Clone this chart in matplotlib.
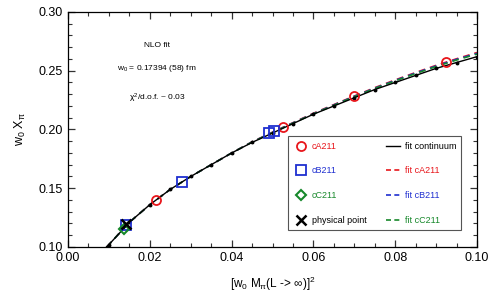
import numpy as np
import matplotlib
matplotlib.use("Agg")
import matplotlib.pyplot as plt
from matplotlib.ticker import MultipleLocator
from matplotlib.lines import Line2D

plt.rcParams['font.family'] = ['Liberation Sans', 'DejaVu Sans']
plt.rcParams['mathtext.fontset'] = 'custom'
plt.rcParams['mathtext.rm'] = 'Liberation Sans'
plt.rcParams['mathtext.it'] = 'Liberation Sans'

# data
cA_x = [0.0215, 0.0525, 0.0700, 0.0924]
cA_y = [0.140, 0.2025, 0.2283, 0.2573]
cB_x = [0.0143, 0.0279, 0.0491, 0.0504]
cB_y = [0.1188, 0.1553, 0.1970, 0.1983]
cC_x = [0.0137]
cC_y = [0.1155]
phys_x = [0.0142]
phys_y = [0.1195]

fit_x = [0.0095, 0.010, 0.015, 0.020, 0.025, 0.030, 0.035, 0.040, 0.045, 0.050,
         0.055, 0.060, 0.065, 0.070, 0.075, 0.080, 0.085, 0.090, 0.095, 0.100]
fit_cont = [0.100, 0.102, 0.121, 0.136, 0.149, 0.160, 0.170, 0.180, 0.189, 0.197,
            0.205, 0.213, 0.220, 0.227, 0.234, 0.240, 0.246, 0.252, 0.257, 0.262]
fit_cA = [0.100, 0.102, 0.121, 0.136, 0.149, 0.160, 0.170, 0.180, 0.1895, 0.1977,
          0.2058, 0.2138, 0.2212, 0.2285, 0.2356, 0.2422, 0.2485, 0.2546, 0.2602, 0.2655]
fit_cB = [0.100, 0.102, 0.121, 0.136, 0.149, 0.160, 0.170, 0.180, 0.1894, 0.1975,
          0.2056, 0.2135, 0.2209, 0.2282, 0.2352, 0.2418, 0.2481, 0.2541, 0.2597, 0.2648]
fit_cC = [0.100, 0.102, 0.121, 0.136, 0.149, 0.160, 0.170, 0.180, 0.1893, 0.1973,
          0.2054, 0.2133, 0.2206, 0.2279, 0.2349, 0.2414, 0.2476, 0.2536, 0.2591, 0.2642]

red = '#e8161b'
blue = '#1f2fd0'
green = '#16882a'

fig = plt.figure(figsize=(4.9, 3.0), dpi=100)
ax = fig.add_axes([0.1388, 0.1767, 0.8347, 0.7833])

ax.plot(fit_x, fit_cA, color=red, lw=1.2, dashes=(4, 3))
ax.plot(fit_x, fit_cB, color=blue, lw=1.2, dashes=(4, 3))
ax.plot(fit_x, fit_cC, color=green, lw=1.2, dashes=(4, 3))
ax.plot(fit_x, fit_cont, color='black', lw=1.0, marker='o', ms=1.8)

ax.plot(cA_x, cA_y, 'o', mfc='none', mec=red, mew=1.3, ms=6.5)
ax.plot(cB_x, cB_y, 's', mfc='none', mec=blue, mew=1.3, ms=7)
ax.plot(cC_x, cC_y, 'D', mfc='none', mec=green, mew=1.5, ms=5.5)
ax.plot(phys_x, phys_y, 'x', color='black', mew=1.8, ms=6.5)

ax.set_xlim(0, 0.1)
ax.set_ylim(0.10, 0.30)
ax.xaxis.set_major_locator(MultipleLocator(0.02))
ax.xaxis.set_minor_locator(MultipleLocator(0.005))
ax.yaxis.set_major_locator(MultipleLocator(0.05))
ax.yaxis.set_minor_locator(MultipleLocator(0.01))
ax.xaxis.set_major_formatter(matplotlib.ticker.FormatStrFormatter('%.2f'))
ax.yaxis.set_major_formatter(matplotlib.ticker.FormatStrFormatter('%.2f'))
ax.tick_params(which='both', direction='in', top=True, right=True, labelsize=9, color='#333333')
ax.tick_params(which='major', length=5, width=0.9)
ax.tick_params(which='minor', length=3, width=0.8)
for s in ax.spines.values():
    s.set_linewidth(0.9)

ax.set_xlabel(r'[w$_0$ M$_\pi$(L -> ∞)]$^2$', fontsize=8.5, labelpad=8)
ax.set_ylabel(r'w$_0$ X$_\pi$', fontsize=9, labelpad=8)

ax.text(0.218, 0.85, 'NLO fit', transform=ax.transAxes, ha='center', fontsize=6)
ax.text(0.218, 0.755, r'w$_0$ = 0.17394 (58) fm', transform=ax.transAxes, ha='center', fontsize=6)
ax.text(0.218, 0.625, r'$\chi^2$/d.o.f. ~ 0.03', transform=ax.transAxes, ha='center', fontsize=6)

handles = [
    Line2D([], [], ls='none', marker='o', mfc='none', mec=red, mew=1.3, ms=6.5),
    Line2D([], [], ls='none', marker='s', mfc='none', mec=blue, mew=1.3, ms=7),
    Line2D([], [], ls='none', marker='D', mfc='none', mec=green, mew=1.5, ms=5.5),
    Line2D([], [], ls='none', marker='x', color='black', mew=1.8, ms=6.5),
    Line2D([], [], color='black', lw=1.0),
    Line2D([], [], color=red, lw=1.2, dashes=(3, 2)),
    Line2D([], [], color=blue, lw=1.2, dashes=(3, 2)),
    Line2D([], [], color=green, lw=1.2, dashes=(3, 2)),
]
labels = ['cA211', 'cB211', 'cC211', 'physical point',
          'fit continuum', 'fit cA211', 'fit cB211', 'fit cC211']
colors = [red, blue, green, 'black', 'black', red, blue, green]
leg = ax.legend(handles, labels, ncol=2, fontsize=6.5, loc='lower left',
                bbox_to_anchor=(0.528, 0.051, 0.445, 0.40), mode='expand',
                labelspacing=1.75, handlelength=1.5, handletextpad=0.5,
                columnspacing=1.0, borderpad=0.6, fancybox=False,
                edgecolor='#555555', framealpha=1)
leg.get_frame().set_linewidth(0.8)
for t, c in zip(leg.get_texts(), colors):
    t.set_color(c)

fig.savefig('out.png', dpi=100)
